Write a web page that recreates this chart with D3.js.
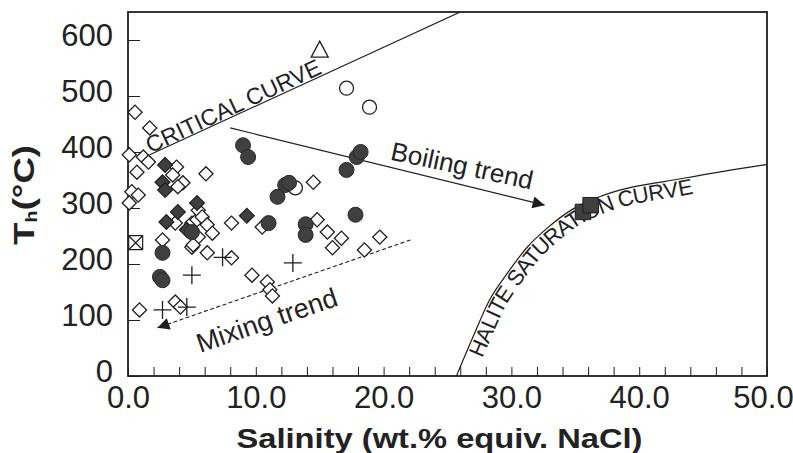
<!DOCTYPE html>
<html>
<head>
<meta charset="utf-8">
<script src="https://cdn.jsdelivr.net/npm/d3@7"></script>
<style>
  body { margin: 0; background: #fff; }
  svg { display: block; font-family: "Liberation Sans", Arial, sans-serif; }
</style>
</head>
<body>
<div id="chart"></div>
<script>
// data: [salinity wt.% NaCl eq, Th °C]
const openDiamonds = [
  [0.55,471],[1.7,443],[0.1,395],[1.2,391],[1.6,382],[0.7,364],[3.8,373],[3.5,359],
  [4.3,345],[3.9,338],[0.3,329],[0.8,323],[0.1,309],[6.1,361],[3.7,273],[5.0,273],
  [5.4,279],[5.5,248],[5.0,230],[5.5,296],[5.8,284],[6.2,270],[6.6,255],[8.1,273],
  [10.5,266],[6.2,220],[8.1,211],[5.1,234],[2.7,243],[9.7,180],[10.9,168],[11.1,154],
  [11.3,143],[0.9,118],[3.7,132],[4.1,123],[14.5,346],[14.8,279],[15.6,257],[16.7,246],
  [16.0,229],[18.5,225],[19.7,248]
];
const filledDiamonds = [
  [2.9,377],[2.7,346],[2.9,332],[5.4,309],[3.9,293],[3.0,275],[4.6,261],[9.3,286]
];
const filledCircles = [
  [9.0,412],[9.4,391],[12.3,341],[12.6,345],[11.7,320],[11.0,273],[13.9,271],[13.9,252],
  [17.9,391],[18.2,400],[17.1,368],[17.8,288],[2.7,220],[2.5,177],[2.7,171],[5.0,257]
];
const openCircles = [[17.1,514],[18.9,480],[13.1,336]];
const plusPoints = [[5.0,180],[2.7,118],[4.6,123],[7.4,212],[12.9,202]];
const trianglePoints = [[15.0,582]];
const squarePoints = [[35.6,293],[36.2,305]];
const boxedXPoints = [[0.6,238]];

const criticalCurve = [[1.7,395],[13.8,522],[26,650]];
const haliteCurve = [[25.7,0],[27.0,70],[28.3,136],[29.7,184],[31.2,229],[32.8,264],
  [34.8,298],[36.9,320],[43.7,354],[50,378]];
const boilingTrend = [[8.0,443],[32.6,305]];
const mixingTrend = [[22.1,243],[2.3,86]];

const xTicks = d3.range(0, 51, 2);
const xLabels = [0, 10, 20, 30, 40, 50];
const yTicks = [0, 100, 200, 300, 400, 500, 600];

const W = 793, H = 453;
const margin = { top: 12, right: 26, bottom: 76, left: 128 };

const svg = d3.select("#chart").append("svg")
  .attr("width", W)
  .attr("height", H);

const x = d3.scaleLinear().domain([0, 50]).range([margin.left, W - margin.right]);
const y = d3.scaleLinear().domain([0, 650]).range([H - margin.bottom - 1, margin.top]);

const ink = "#1e1e1e", fillDark = "#3f3f3f";

const defs = svg.append("defs");
defs.append("clipPath").attr("id", "plot")
  .append("rect")
  .attr("x", x(0)).attr("y", y(650))
  .attr("width", x(50) - x(0)).attr("height", y(0) - y(650));

defs.append("marker")
  .attr("id", "arrow")
  .attr("viewBox", "0 0 10 10")
  .attr("refX", 10).attr("refY", 5)
  .attr("markerWidth", 16).attr("markerHeight", 12)
  .attr("markerUnits", "userSpaceOnUse")
  .attr("orient", "auto")
  .append("path")
  .attr("d", "M0,0 L10,5 L0,10 Z")
  .attr("fill", ink);

// AXES
svg.append("g")
  .attr("transform", "translate(0," + y(0) + ")")
  .call(d3.axisBottom(x).tickValues(xTicks).tickSizeInner(-9).tickSizeOuter(0)
    .tickPadding(10)
    .tickFormat(d => xLabels.includes(d) ? d3.format(".1f")(d) : ""))
  .call(g => g.select(".domain").remove())
  .call(g => g.selectAll("line").attr("stroke", ink))
  .call(g => g.selectAll("text").attr("font-size", 31).attr("fill", "#222")
    .attr("font-family", "Liberation Sans, Arial, sans-serif")
    .attr("dx", d => d === 50 ? -4 : 0));

svg.append("g")
  .attr("transform", "translate(" + x(0) + ",0)")
  .call(d3.axisLeft(y).tickValues(yTicks).tickSizeInner(-12).tickSizeOuter(0)
    .tickPadding(15))
  .call(g => g.select(".domain").remove())
  .call(g => g.selectAll("line").attr("stroke", ink))
  .call(g => g.selectAll("text").attr("font-size", 31).attr("fill", "#222")
    .attr("transform", "translate(0,-4)")
    .attr("font-family", "Liberation Sans, Arial, sans-serif"));

// frame
svg.append("rect")
  .attr("x", x(0)).attr("y", y(650))
  .attr("width", x(50) - x(0)).attr("height", y(0) - y(650))
  .attr("fill", "none").attr("stroke", ink).attr("stroke-width", 1.8);

// axis titles
svg.append("text")
  .attr("x", (x(0) + x(50)) / 2 - 8).attr("y", 448)
  .attr("text-anchor", "middle")
  .attr("font-size", 28).attr("font-weight", "bold").attr("fill", "#222")
  .attr("textLength", 406).attr("lengthAdjust", "spacingAndGlyphs")
  .text("Salinity (wt.% equiv. NaCl)");

const yt = svg.append("text")
  .attr("transform", "translate(34,195) rotate(-90)")
  .attr("text-anchor", "middle")
  .attr("font-size", 29).attr("font-weight", "bold").attr("fill", "#222")
  .attr("textLength", 100).attr("lengthAdjust", "spacingAndGlyphs");
yt.append("tspan").text("T");
yt.append("tspan").attr("font-size", 16).attr("dy", 3).text("h");
yt.append("tspan").attr("dy", -3).text("(°C)");

// CURVES
const plot = svg.append("g").attr("clip-path", "url(#plot)");
const line = d3.line().x(d => x(d[0])).y(d => y(d[1]));

plot.append("path").datum(criticalCurve)
  .attr("d", line).attr("fill", "none").attr("stroke", ink).attr("stroke-width", 1.2);

const halitePath = line.curve(d3.curveMonotoneX)(haliteCurve);
defs.append("path").attr("id", "halitePath").attr("d", halitePath);
plot.append("path")
  .attr("d", halitePath).attr("fill", "none").attr("stroke", ink).attr("stroke-width", 1.2);
line.curve(d3.curveLinear);

svg.append("path").datum(boilingTrend)
  .attr("d", line).attr("fill", "none").attr("stroke", ink).attr("stroke-width", 1.2)
  .attr("marker-end", "url(#arrow)");

svg.append("path").datum(mixingTrend)
  .attr("d", line).attr("fill", "none").attr("stroke", ink).attr("stroke-width", 1.1)
  .attr("stroke-dasharray", "4,2.5")
  .attr("marker-end", "url(#arrow)");

// curve labels
svg.append("text")
  .attr("transform", "translate(" + x(8.5) + "," + (y(464) - 3) + ") rotate(-25)")
  .attr("text-anchor", "middle")
  .attr("font-size", 23).attr("fill", "#222")
  .text("CRITICAL CURVE");

svg.append("text")
  .attr("dy", 17)
  .attr("font-size", 22).attr("fill", "#222")
  .append("textPath")
  .attr("href", "#halitePath")
  .attr("startOffset", 26)
  .text("HALITE SATURATION CURVE");

svg.append("text")
  .attr("transform", "translate(" + x(26) + "," + y(360) + ") rotate(12)")
  .attr("text-anchor", "middle")
  .attr("font-size", 26).attr("fill", "#222")
  .text("Boiling trend");

svg.append("text")
  .attr("transform", "translate(" + x(11.1) + "," + y(84) + ") rotate(-19)")
  .attr("text-anchor", "middle")
  .attr("font-size", 27).attr("fill", "#222")
  .text("Mixing trend");

// POINTS
const pts = svg.append("g");

pts.selectAll(".od").data(openDiamonds).enter().append("path")
  .attr("class", "od")
  .attr("d", d3.symbol(d3.symbolSquare, 100))
  .attr("transform", d => "translate(" + x(d[0]) + "," + y(d[1]) + ") rotate(45)")
  .attr("fill", "#fff").attr("stroke", ink).attr("stroke-width", 1.3);

pts.selectAll(".fd").data(filledDiamonds).enter().append("path")
  .attr("class", "fd")
  .attr("d", d3.symbol(d3.symbolSquare, 110))
  .attr("transform", d => "translate(" + x(d[0]) + "," + y(d[1]) + ") rotate(45)")
  .attr("fill", fillDark).attr("stroke", ink).attr("stroke-width", 1.2);

pts.selectAll(".oc").data(openCircles).enter().append("circle")
  .attr("class", "oc")
  .attr("cx", d => x(d[0])).attr("cy", d => y(d[1])).attr("r", 7)
  .attr("fill", "#fff").attr("stroke", ink).attr("stroke-width", 1.3);

pts.selectAll(".fc").data(filledCircles).enter().append("circle")
  .attr("class", "fc")
  .attr("cx", d => x(d[0])).attr("cy", d => y(d[1])).attr("r", 7.5)
  .attr("fill", fillDark).attr("stroke", "#2a2a2a").attr("stroke-width", 1);

pts.selectAll(".pl").data(plusPoints).enter().append("path")
  .attr("class", "pl")
  .attr("d", "M-9,0H9M0,-9V9")
  .attr("transform", d => "translate(" + x(d[0]) + "," + y(d[1]) + ")")
  .attr("fill", "none").attr("stroke", ink).attr("stroke-width", 1.3);

pts.selectAll(".tr").data(trianglePoints).enter().append("path")
  .attr("class", "tr")
  .attr("d", "M0,-9L8.5,7H-8.5Z")
  .attr("transform", d => "translate(" + x(d[0]) + "," + y(d[1]) + ")")
  .attr("fill", "#fff").attr("stroke", ink).attr("stroke-width", 1.3);

pts.selectAll(".sq").data(squarePoints).enter().append("path")
  .attr("class", "sq")
  .attr("d", d3.symbol(d3.symbolSquare, 240))
  .attr("transform", d => "translate(" + x(d[0]) + "," + y(d[1]) + ")")
  .attr("fill", fillDark).attr("stroke", ink).attr("stroke-width", 1);

pts.selectAll(".bx").data(boxedXPoints).enter().append("path")
  .attr("class", "bx")
  .attr("d", "M-7,-7H7V7H-7ZM-7,-7L7,7M7,-7L-7,7")
  .attr("transform", d => "translate(" + x(d[0]) + "," + y(d[1]) + ")")
  .attr("fill", "#fff").attr("stroke", ink).attr("stroke-width", 1.2);
</script>
</body>
</html>
